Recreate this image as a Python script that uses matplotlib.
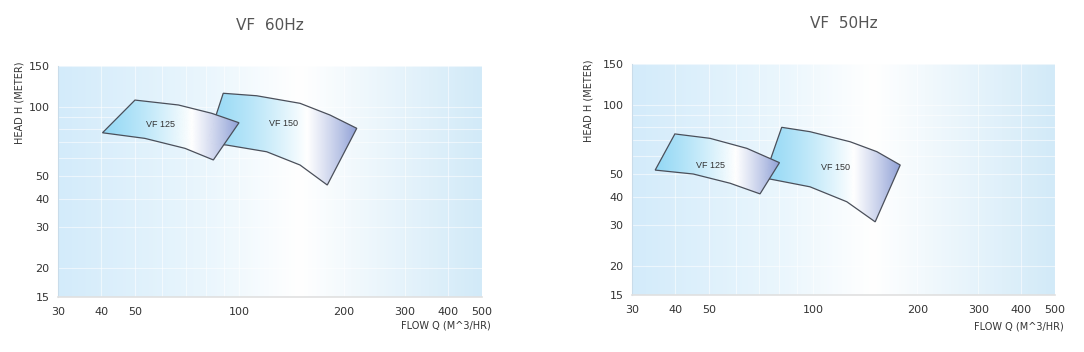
import matplotlib
matplotlib.use("Agg")
import matplotlib.pyplot as plt
import numpy as np
from matplotlib.colors import LinearSegmentedColormap
from matplotlib.patches import Polygon
from matplotlib.ticker import FixedLocator, NullFormatter, LogLocator


titles = ["VF  60Hz", "VF  50Hz"]
q_ticks = [30, 40, 50, 100, 200, 300, 400, 500]
h_ticks = [15, 20, 30, 40, 50, 100, 150]
model_names = ["VF 125", "VF 150"]

# 60 Hz envelopes (flow m3/hr, head m)
vf125_60_top_q = [50.0, 66.7, 83.2, 99.7]
vf125_60_top_h = [106.8, 101.7, 93.6, 85.2]
vf125_60_bot_q = [40.3, 53.4, 69.7, 84.1]
vf125_60_bot_h = [77.1, 72.9, 66.0, 58.8]
vf150_60_top_q = [89.8, 112.1, 149.5, 182.4, 217.8]
vf150_60_top_h = [114.3, 111.5, 103.4, 92.0, 80.6]
vf150_60_bot_q = [80.6, 91.9, 119.8, 149.5, 179.1]
vf150_60_bot_h = [69.6, 68.2, 63.8, 55.9, 45.8]

# 50 Hz envelopes
vf125_50_top_q = [39.9, 50.4, 64.4, 80.0]
vf125_50_top_h = [74.7, 71.5, 64.7, 56.1]
vf125_50_bot_q = [35.0, 45.1, 57.6, 70.3]
vf125_50_bot_h = [52.1, 50.1, 45.7, 41.1]
vf150_50_top_q = [81.2, 98.0, 128.0, 152.9, 178.6]
vf150_50_top_h = [79.8, 76.4, 69.1, 62.6, 54.8]
vf150_50_bot_q = [72.2, 98.0, 125.2, 151.2]
vf150_50_bot_h = [48.2, 44.1, 38.0, 31.1]

# label positions inside the envelopes
labels_60 = [(59.3, 83.9), (133.8, 84.7)]
labels_50 = [(50.4, 54.4), (115.8, 53.3)]

bg_cmap = LinearSegmentedColormap.from_list(
    "bg", [(0, "#d3ebfa"), (0.35, "#eaf6fd"), (0.57, "#ffffff"), (1, "#d2eaf8")])
shape_cmap = LinearSegmentedColormap.from_list(
    "shape", [(0, "#93d8f5"), (0.55, "#ffffff"), (1, "#8fa0d6")])

font = ["DejaVu Sans"]


def draw_envelope(ax, top_q, top_h, bot_q, bot_h, z):
    qs = list(top_q) + list(bot_q)[::-1]
    hs = list(top_h) + list(bot_h)[::-1]
    pts = np.column_stack([qs, hs])
    poly = Polygon(pts, closed=True, facecolor="none", edgecolor="#4a4f5a",
                   lw=0.9, zorder=z + 0.2)
    ax.add_patch(poly)
    grad = np.linspace(0, 1, 256).reshape(1, -1)
    im = ax.imshow(grad, cmap=shape_cmap, aspect="auto", zorder=z,
                   extent=(min(qs), max(qs), min(hs), max(hs)),
                   interpolation="bicubic")
    clip = Polygon(pts, closed=True, transform=ax.transData)
    im.set_clip_path(clip)


def setup_axes(ax, title, ylab_x, xlab_y):
    ax.set_xscale("log")
    ax.set_yscale("log")
    ax.set_xlim(30, 500)
    ax.set_ylim(15, 150)

    grad = np.linspace(0, 1, 256).reshape(1, -1)
    ax.imshow(grad, cmap=bg_cmap, aspect="auto", extent=(0, 1, 0, 1),
              transform=ax.transAxes, zorder=0, interpolation="bicubic")

    ax.xaxis.set_major_locator(FixedLocator(q_ticks))
    ax.yaxis.set_major_locator(FixedLocator(h_ticks))
    ax.set_xticklabels([str(t) for t in q_ticks])
    ax.set_yticklabels([str(t) for t in h_ticks])
    ax.xaxis.set_minor_locator(LogLocator(base=10, subs=np.arange(1, 10)))
    ax.yaxis.set_minor_locator(LogLocator(base=10, subs=np.arange(1, 10)))
    ax.xaxis.set_minor_formatter(NullFormatter())
    ax.yaxis.set_minor_formatter(NullFormatter())
    ax.tick_params(which="both", length=0, colors="#333333", labelsize=8)
    ax.tick_params(axis="x", pad=7)
    ax.tick_params(axis="y", pad=6)

    ax.grid(which="both", color="white", lw=0.8, alpha=0.55, zorder=0.5)
    ax.set_axisbelow(True)

    for side in ["top", "right"]:
        ax.spines[side].set_visible(False)
    ax.spines["left"].set_color("#c9dcea")
    ax.spines["bottom"].set_color("#e0e0e0")
    ax.spines["bottom"].set_linewidth(1.2)

    ax.set_title(title, fontsize=11, color="#555555", pad=26, family=font)
    ax.text(ylab_x, 0.84, "HEAD H (METER)", transform=ax.transAxes,
            rotation=90, ha="center", va="center", fontsize=7,
            color="#333333", family=font)
    ax.text(1.02, xlab_y, "FLOW Q (M^3/HR)", transform=ax.transAxes,
            ha="right", va="center", fontsize=7, color="#333333",
            family=font)


fig = plt.figure(figsize=(10.84, 3.52), dpi=100)
ax1 = fig.add_axes([58 / 1084, 1 - 297 / 352, 424 / 1084, 231 / 352])
ax2 = fig.add_axes([632 / 1084, 1 - 295 / 352, 423 / 1084, 231 / 352])

setup_axes(ax1, titles[0], -0.09, -0.125)
setup_axes(ax2, titles[1], -0.104, -0.138)

draw_envelope(ax1, vf150_60_top_q, vf150_60_top_h, vf150_60_bot_q, vf150_60_bot_h, 2)
draw_envelope(ax1, vf125_60_top_q, vf125_60_top_h, vf125_60_bot_q, vf125_60_bot_h, 3)
draw_envelope(ax2, vf150_50_top_q, vf150_50_top_h, vf150_50_bot_q, vf150_50_bot_h, 2)
draw_envelope(ax2, vf125_50_top_q, vf125_50_top_h, vf125_50_bot_q, vf125_50_bot_h, 3)

for ax, labels in [(ax1, labels_60), (ax2, labels_50)]:
    for name, (q, h) in zip(model_names, labels):
        ax.text(q, h, name, ha="center", va="center", fontsize=6.5,
                color="#333333", zorder=5, family=["Liberation Sans", "DejaVu Sans"])
    ax.set_xlim(30, 500)
    ax.set_ylim(15, 150)

fig.savefig("out.png", dpi=100)
